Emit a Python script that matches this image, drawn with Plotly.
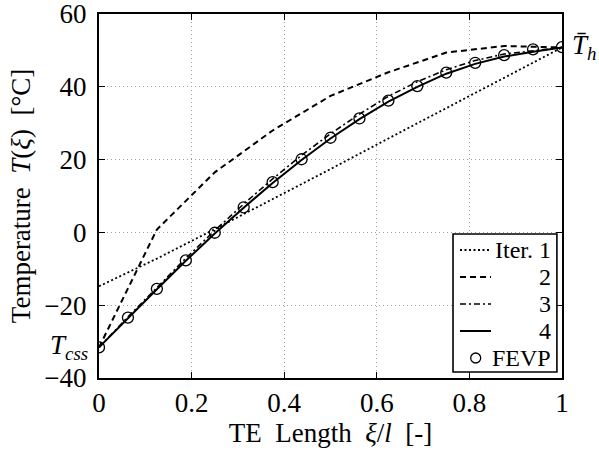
import plotly.graph_objects as go

# ---------------- data ----------------
x8 = [0, 0.125, 0.25, 0.375, 0.5, 0.625, 0.75, 0.875, 1.0]
x16 = [i / 16 for i in range(17)]

iter1 = [-14.8, -7.2, 0.9, 9.1, 17.4, 25.8, 34.2, 42.6, 50.8]
iter2 = [-31.6, 0.8, 16.5, 28.0, 37.5, 44.0, 49.4, 51.2, 50.8]
iter3 = [-31.6, -23.2, -15.2, -7.1, 0.5, 7.8, 14.7, 21.2, 27.1, 32.5,
         37.4, 41.4, 44.7, 47.2, 49.0, 50.0, 50.8]
iter4 = [-31.6, -23.5, -15.6, -7.8, -0.3, 6.8, 13.6, 19.9, 25.8, 31.1,
         35.9, 40.0, 43.6, 46.3, 48.3, 49.6, 50.8]
fevp = [-31.6, -23.4, -15.5, -7.7, -0.1, 6.9, 13.8, 20.1, 26.0, 31.3,
        36.2, 40.2, 43.9, 46.6, 48.7, 50.3, 50.9]

legend_labels = ["Iter. 1", "2", "3", "4", "FEVP"]
x_ticks = [0, 0.2, 0.4, 0.6, 0.8, 1]
x_tick_text = ["0", "0.2", "0.4", "0.6", "0.8", "1"]
y_ticks = [-40, -20, 0, 20, 40, 60]
y_tick_text = ["\u221240", "\u221220", "0", "20", "40", "60"]

FONT = "Liberation Serif, Times New Roman, serif"
FS = 27
FS_LEG = 24

DOT = "2px,2.5px"
DASH = "6px,4px"
DASHDOT = "6px,3px,2px,3px"

fig = go.Figure()
fig.add_trace(go.Scatter(x=x8, y=iter1, mode="lines", name=legend_labels[0],
                         line=dict(color="black", width=1.8, dash=DOT)))
fig.add_trace(go.Scatter(x=x8, y=iter2, mode="lines", name=legend_labels[1],
                         line=dict(color="black", width=2, dash=DASH)))
fig.add_trace(go.Scatter(x=x16, y=iter3, mode="lines", name=legend_labels[2],
                         line=dict(color="black", width=1.6, dash=DASHDOT)))
fig.add_trace(go.Scatter(x=x16, y=iter4, mode="lines", name=legend_labels[3],
                         line=dict(color="black", width=2)))
fig.add_trace(go.Scatter(x=x16, y=fevp, mode="markers", name=legend_labels[4],
                         marker=dict(symbol="circle-open", size=11, color="black",
                                     line=dict(width=1.3, color="black"))))

axis_common = dict(
    showline=True, linecolor="black", linewidth=2, mirror="ticks",
    ticks="inside", ticklen=6, tickwidth=1.2, tickcolor="black",
    showgrid=True, gridcolor="#a0a0a0", gridwidth=1, griddash="1px,3px",
    zeroline=False, tickfont=dict(family=FONT, size=FS, color="black"),
    automargin=False, ticklabeloverflow="allow",
)

fig.update_xaxes(range=[0, 1], tickvals=x_ticks, ticktext=x_tick_text,
                 ticklabelstandoff=0,
                 title=dict(text="TE\u00a0 Length\u00a0 <i>ξ</i>/<i>l</i>\u00a0 [-]",
                            font=dict(family=FONT, size=FS, color="black"), standoff=0),
                 **axis_common)
fig.update_yaxes(range=[-40, 60], tickvals=y_ticks, ticktext=y_tick_text,
                 ticklabelstandoff=5,
                 title=dict(text="Temperature\u00a0 <i>T</i>(<i>ξ</i>)\u00a0 [°C]",
                            font=dict(family=FONT, size=FS, color="black"), standoff=6),
                 **axis_common)

# end-point annotations
fig.add_annotation(x=0, y=iter4[0], xref="x", yref="y", xanchor="right", yanchor="middle",
                   xshift=-9, text="<i>T</i><sub><i>css</i></sub>", showarrow=False,
                   font=dict(family=FONT, size=FS, color="black"))
fig.add_annotation(x=1, y=iter4[-1], xref="x", yref="y", xanchor="left", yanchor="middle",
                   xshift=8, text="<i>T\u0304</i><sub><i>h</i></sub>", showarrow=False,
                   font=dict(family=FONT, size=FS, color="black"))

# legend box (drawn in paper coordinates to reproduce the right-aligned layout)
box_x0, box_x1, box_y0, box_y1 = 0.7646, 0.989, 0.0165, 0.3956
row_y = [0.3516, 0.2775, 0.2033, 0.1291, 0.0549]
smp_x0, smp_x1 = 0.7797, 0.8467
txt_x = 0.981
fig.add_shape(type="rect", xref="paper", yref="paper", x0=box_x0, x1=box_x1,
              y0=box_y0, y1=box_y1, line=dict(color="black", width=1.6),
              fillcolor="white", layer="above")
styles = [dict(width=1.8, dash=DOT), dict(width=2, dash=DASH),
          dict(width=1.6, dash=DASHDOT), dict(width=2, dash="solid")]
for ry, st in zip(row_y[:4], styles):
    fig.add_shape(type="line", xref="paper", yref="paper", x0=smp_x0, x1=smp_x1,
                  y0=ry, y1=ry, line=dict(color="black", **st), layer="above")
for ry, lab in zip(row_y, legend_labels):
    fig.add_annotation(x=txt_x, y=ry, xref="paper", yref="paper", xanchor="right",
                       yanchor="middle", text=lab, showarrow=False,
                       font=dict(family=FONT, size=FS_LEG, color="black"))
fig.add_shape(type="circle", xref="paper", yref="paper", xsizemode="pixel", ysizemode="pixel",
              xanchor=0.8136, yanchor=row_y[4], x0=-5, x1=5, y0=-5, y1=5,
              line=dict(color="black", width=1.3), layer="above")

fig.update_layout(
    width=599, height=454,
    margin=dict(l=99, r=37, t=14, b=76),
    paper_bgcolor="white", plot_bgcolor="white",
    showlegend=False,
    font=dict(family=FONT, size=FS, color="black"),
)

fig.write_html("out.html", config={"displayModeBar": False},
               post_script="document.body.style.margin='0';document.body.style.overflow='hidden';")
